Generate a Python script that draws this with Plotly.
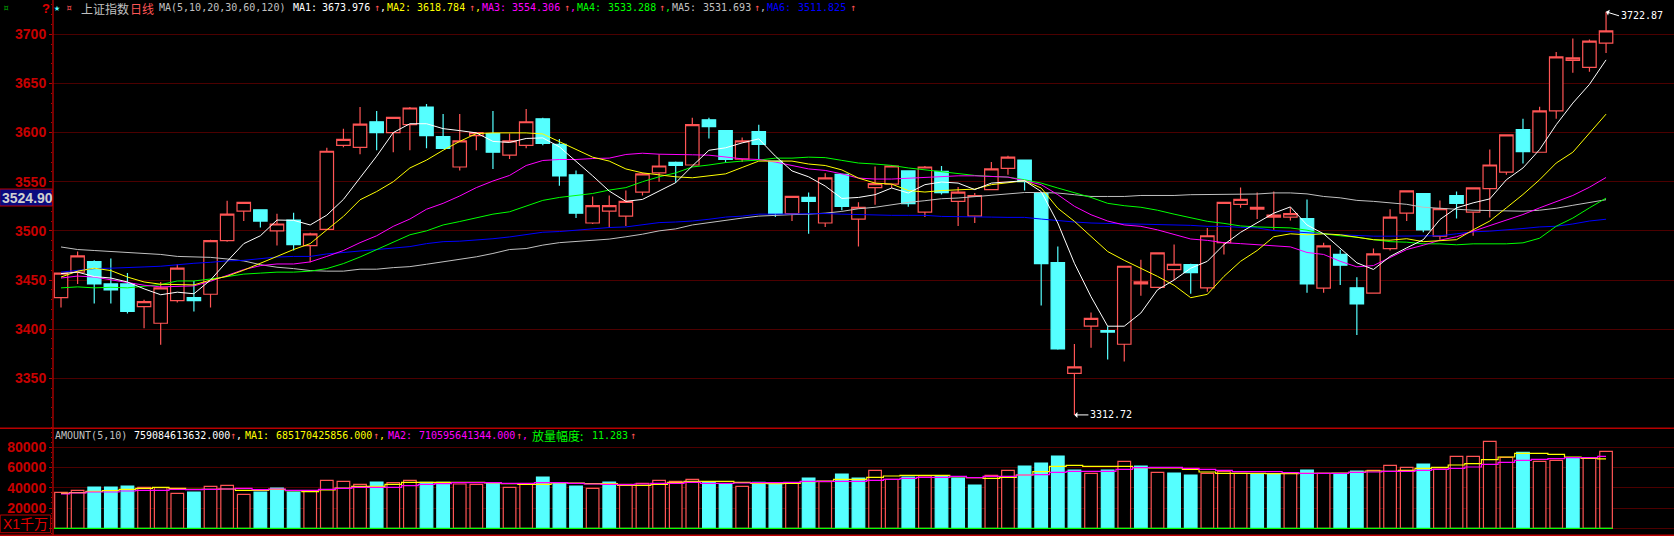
import plotly.graph_objects as go

# ---------- data ----------
opens = [3432,3458,3468.7,3446,3446,3423,3406,3429,3432,3435.5,
 3490,3520,3521.5,3500,3511,3485,3501.5,3587,3585,3611,
 3600,3608,3626,3596,3565,3597,3599,3577,3587,3614,
 3588,3557,3508,3520,3515,3539.5,3559,3569.6,3567,3613,
 3602,3573,3601,3571,3517.6,3534,3508,3557.5,3512,3544,
 3547.6,3561,3519,3560.5,3530,3515,3542,3563.6,3572,3538,
 3467.6,3355,3403,3398.5,3384.6,3446,3442.5,3460.5,3465.6,3442,
 3488,3527,3522,3514,3514,3512.5,3441.7,3476,3442,3436.6,
 3482,3518,3538,3494.6,3536,3519,3543,3559.7,3603,3580,
 3622,3673.5,3666.4,3691]
closes = [3457,3474.5,3446,3440,3418,3428,3442,3462,3429,3490,
 3517,3529,3510,3507,3486,3497,3581,3593,3608.5,3600,
 3615.5,3625,3597,3584,3591.5,3600,3580,3591.5,3611,3589,
 3556,3518,3525.7,3525.7,3530,3558,3566,3566.5,3608,3606,
 3572.6,3591.5,3588,3517.6,3535,3530,3554,3525,3524,3548,
 3566,3527.6,3565,3539,3539.5,3536,3563,3575,3550,3466.6,
 3380,3361.5,3411,3397,3464,3448,3477.5,3466,3457.5,3495,
 3529,3532,3524,3516,3517.6,3446,3484.7,3465,3425.6,3476.6,
 3514,3540.7,3501,3522.7,3528,3543.7,3567,3597.6,3580.7,3622,
 3677,3676,3693,3703.4]
highs = [3457,3479,3470,3472,3457,3430,3448,3466,3449,3491,
 3530.6,3529,3521.5,3517.5,3518.5,3498,3584.5,3604,3626,3622,
 3615.5,3626,3629,3619,3619,3600.7,3622,3599,3624,3615,
 3593.5,3561.5,3535,3536,3541,3559,3578,3570.6,3615,3615,
 3602,3595,3608,3571,3535,3539,3558.5,3558,3529,3565.6,
 3567,3561,3566,3566,3544.6,3538.5,3570,3576.4,3572,3538,
 3484,3385,3417,3403,3464,3470.7,3477.5,3486,3466.6,3503,
 3529,3544,3539,3540,3524,3532,3488,3480.7,3452.8,3482,
 3522,3540.7,3538,3531,3540,3543.7,3582.7,3597.6,3614,3626.4,
 3682,3695.6,3694.6,3722.87]
lows = [3422,3446,3426,3426,3416,3401,3384,3427,3418,3422,
 3489,3510,3503.5,3485,3480,3468,3501,3585,3578,3582,
 3580,3582,3584,3584,3561.5,3582,3563,3573,3584,3587,
 3546,3513,3507,3503,3505,3536,3550,3549,3567,3594,
 3569.6,3570,3572.6,3514,3510,3497,3504,3521,3484,3526.6,
 3543.6,3524.6,3514,3537,3505,3508,3542,3557,3541,3424,
 3379,3312.72,3381,3369,3367,3434,3442.5,3450,3436,3438,
 3476,3523.5,3512,3501,3510.5,3437,3437,3445,3394,3436,
 3480,3510,3498.6,3491,3512.5,3495,3513.6,3557,3568.5,3580,
 3614,3661,3662,3681]

ma5 = [3456.5,3458,3453.5,3452,3448,3441,3435,3437.6,3436,3450,3469,3487,3495,3511,3510.7,3506,3516,3532,3554,3576,3600,3609,
 3609,3604,3602,3599.7,3591,3590,3594,3594.6,3585.5,3571,3556,3540.5,3530,3532,3540.5,3549,3566,3582,3584.5,3589.5,3593.6,3576,3561,3555,3545.6,
 3533,3534,3536.8,3543.6,3538.5,3547,3549.7,3548.6,3542,3548.6,3550,3551,3540,3508,3467,3433,3403,3403,3416.4,3440,3450,3462,3469,3486,3498.5,3508.6,
 3518,3524.4,3506,3497,3482.7,3467.5,3460.7,3474,3482.7,3491,3511.5,3523.4,3528.5,3532.5,3552,3564,3582.7,3608,3630,3649,3673.98]
ma10 = [3453,3459,3462,3459.6,3453,3448,3445.7,3445,3445,3450,3453.8,3460,3466.7,3474,3481,3487,3501,3514.7,3531.6,3540,3550,3564,
 3572,3582,3591,3599,3599.7,3599.7,3599.7,3598.6,3591,3583.4,3575,3571,3563,3559,3557,3555,3554,3556,3558,3564.5,3571,3571,3571,3568,3566.5,
 3562,3553.7,3548.6,3547.6,3541,3539.5,3541,3541.9,3542.5,3547,3549,3551,3543.6,3523,3509.7,3494,3479,3470,3462,3453.7,3444.6,3432,3435.4,3453.7,3469,3480,
 3494,3497,3496,3497,3496,3493.6,3491,3490.5,3492,3489,3490,3491,3501,3510,3523.4,3537,3552,3569,3580,3599.7,3618.78]
ma20 = [3452,3454,3453,3450.4,3447.7,3444.7,3443,3443.7,3444,3448.7,3454.5,3460.6,3464.6,3466.3,3466.3,3468.4,3474,3480,3488,3495,3504.6,3512,
 3522,3528,3535.5,3544,3550.7,3556.4,3566.5,3571.6,3572.6,3572.6,3573.6,3574,3577.7,3579,3578,3577.4,3577.4,3577,3575,3573.3,3572.6,3570,3566.5,3563,3561.5,
 3558,3553.7,3552.7,3552.7,3553.7,3554.7,3555.4,3556,3556,3555.4,3554.7,3551,3547,3536.8,3525,3516.4,3510,3506,3504.6,3501,3496,3491.7,3490.3,3488,3487,3486,
 3485,3483.7,3478,3476,3469,3463.4,3464.7,3472.5,3481,3485.4,3490.5,3494,3499.7,3505.4,3511,3516.6,3523.4,3529.5,3536,3544.4,3554.31]
ma30 = [3442,3443,3442,3442.6,3442,3443.7,3445.3,3449,3449,3451,3453.8,3456,3457,3458,3458,3459,3461.6,3466.7,3473.4,3481,3489,3496,
 3500,3506,3509.5,3513.5,3517,3519.4,3525.5,3531,3534,3536,3538,3541.5,3544,3550,3555,3559,3565,3567,3569.5,3571,3572,3574,3574,3575,3574.5,
 3571.7,3569,3568,3566.6,3564,3562,3560,3558,3556.4,3555.4,3554.7,3552,3548.6,3543.6,3538.5,3534,3528,3525.6,3524,3521,3517,3513,3509.7,3507.6,3505,3504,
 3503.7,3503,3500.7,3497,3495,3493.6,3491,3489,3488.5,3486.8,3486.8,3485.8,3486.8,3486.8,3486.8,3487.8,3492.5,3504.7,3513,3523.4,3533.29]
ma60 = [3458,3460,3461.6,3462,3463,3463.3,3464,3465.6,3467,3468,3469.4,3470,3471.7,3473.4,3474,3474,3476.5,3478,3480,3481.6,3483,3484,
 3487,3489,3489.5,3490.4,3492,3493.8,3496,3498.6,3499.3,3500.7,3502.7,3503.4,3504,3506,3508.4,3509,3510,3511.8,3514,3515,3517,3517,3517.4,3517.6,3517.6,
 3517,3516.4,3516,3515.8,3515.8,3515.8,3514.7,3514.7,3514.7,3514,3513.7,3513.7,3512,3510.3,3509,3508,3507.6,3507,3507,3506,3506,3505.6,3504.6,3504.6,3503.6,3503,
 3500.3,3499,3498,3497,3496,3495,3494.6,3494.6,3494.6,3494.6,3495,3497,3499,3499.7,3501.4,3502.4,3504,3504.7,3507,3510,3511.83]
ma120 = [3483.6,3481,3480,3479,3478,3477,3476,3474,3473.4,3473,3471.4,3469.4,3465.6,3463,3461.6,3459.6,3459,3459,3461,3461,3462.6,3463.6,
 3466,3468.5,3471,3473.6,3477,3481,3482,3485.5,3488,3489,3490,3491.6,3494,3496.6,3500,3502,3506,3508.4,3511,3513,3515,3516,3516.5,3517,3518,
 3519.8,3522.5,3524,3526.6,3529,3530.7,3532.7,3533.4,3534.7,3535.8,3537.8,3539,3539,3538.5,3536.8,3535,3535,3535,3536,3536,3536,3536.8,3537,3537,3537.5,3537.5,
 3538.6,3538.6,3537.6,3535,3533.6,3531,3530,3528.5,3527,3524,3522.7,3522,3521,3520.7,3520.7,3520,3521,3523,3526,3528.5,3531.69]

amount = [35532,37506,40796,40796,41783,40467,40138,34545,35861,41454,42441,33558,35861,39809,35861,37177,47376,46389,43428,45731,45073,47376,45402,45402,43757,43428,44415,40467,43757,50666,45073,
 41783,39480,45731,43428,44415,47376,46389,48363,46060,44086,41454,45402,44415,45073,49679,46060,53627,49679,57246,48363,50666,51653,51653,49679,42770,52311,57246,61523,64484,71393,57575,54285,
 57575,66129,61523,55272,54614,52640,54285,56259,54285,53956,53956,54614,57575,54285,53956,56588,57246,62181,60207,63497,58562,71064,71064,85869,70077,75012,66129,67116,69090,69090,75908]
amount_down = [2,3,4,8,12,13,14,19,22,23,26,29,30,31,33,39,40,42,43,45,47,48,51,53,54,55,58,59,60,61,63,65,67,68,72,73,75,77,78,82,88,91]
amount_ma5 = [34545,35203,36519,37177,38493,39480,40467,39480,38493,38493,38822,37506,37506,38493,37177,36190,37835,39809,41454,41454,43428,45402,45402,45402,45402,45402,44744,44086,43428,43428,44744,
 44744,44086,44086,42441,42441,43428,45402,46389,46389,46389,45402,44415,44086,44415,46060,46718,48363,48363,50337,51653,52311,52311,52311,50995,50008,49350,50337,52640,55930,61194,62181,61194,
 61194,61194,59878,59549,59549,58233,55601,54285,54285,54285,53956,53956,54285,54285,54614,55272,56588,56259,57246,59220,60207,62510,63826,67774,70406,74025,74025,73038,70406,69090,68517]
amount_ma10 = [33887,34874,35861,35861,36848,37506,37506,38493,38164,38493,38822,39480,38164,38822,37506,37506,38493,39480,40467,40467,40467,42112,43428,44086,45073,45073,45073,44415,44415,45073,45073,
 44415,43757,43428,43099,43757,44415,44415,45402,44415,44415,44744,45073,45073,45402,46389,46389,46389,46389,47376,48363,49350,50337,50337,51324,50008,51324,51324,52640,52969,55272,56259,56259,
 56259,58233,59878,60207,60207,59220,58233,57246,55930,55930,55930,54943,54285,54285,54285,55272,55601,56259,56259,57246,58233,59220,60536,63168,65142,67116,68103,68761,69748,69748,71060]

price_ticks = [3350,3400,3450,3500,3550,3600,3650,3700]
amount_ticks = [0,20000,40000,60000,80000]
amount_tick_text = ["","20000","40000","60000","80000"]

for arr in (opens,closes,highs,lows,ma5,ma10,ma20,ma30,ma60,ma120,amount,amount_ma5,amount_ma10):
    assert len(arr)==94, len(arr)

# ---------- style ----------
W,H = 1674,536
L = 53.3
RED="#ff5555"; CYAN="#55ffff"; GRID="#4c0000"; AXIS="#b80000"; LABEL="#c80000"
MONO="DejaVu Sans Mono, Noto Sans CJK SC"
TICKF=dict(family="Liberation Sans",size=14,color=LABEL,weight=700)
idx=list(range(94))
def px(x): return (x-L)/(W-L)
def py(y): return (H-y)/H

fig=go.Figure()
fig.add_trace(go.Candlestick(x=idx,open=opens,high=highs,low=lows,close=closes,whiskerwidth=0,
    increasing=dict(line=dict(color=RED,width=1.2),fillcolor="#000000"),
    decreasing=dict(line=dict(color=CYAN,width=1.2),fillcolor=CYAN),hoverinfo="skip"))
for vals,c in ((ma120,"#c0c0c0"),(ma60,"#0000ff"),(ma30,"#00ff00"),(ma20,"#ff00ff"),(ma10,"#ffff00"),(ma5,"#ffffff")):
    fig.add_trace(go.Scatter(x=idx,y=vals,mode="lines",line=dict(color=c,width=1),hoverinfo="skip"))

down=set(amount_down)
fig.add_trace(go.Bar(x=idx,y=amount,yaxis="y2",width=0.76,
    marker=dict(color=[CYAN if i in down else "#000000" for i in idx],
                line=dict(color=[CYAN if i in down else RED for i in idx],width=1.2)),hoverinfo="skip"))
fig.add_trace(go.Scatter(x=idx,y=amount_ma5,yaxis="y2",mode="lines",line=dict(color="#ffff00",width=1.2,shape="hvh"),hoverinfo="skip"))
fig.add_trace(go.Scatter(x=idx,y=amount_ma10,yaxis="y2",mode="lines",line=dict(color="#ff00ff",width=1.2,shape="hvh"),hoverinfo="skip"))
fig.add_trace(go.Scatter(x=[-0.42,93.4],y=[0,0],yaxis="y2",mode="lines",line=dict(color="#00ff00",width=1.3),hoverinfo="skip"))

ann=[]
def text(x,y,s,c,fam=MONO,size=10,**kw):
    ann.append(dict(xref="paper",yref="paper",x=px(x),y=py(y),text=s,showarrow=False,xanchor="left",yanchor="middle",
                    font=dict(family=fam,size=size,color=c),borderpad=0,**kw))
Y0=7
text(2,Y0,"¤","#00a000",size=10)
text(41,Y0+1,"<b>?</b>","#e00000",fam="Liberation Sans",size=13)
text(53,Y0,"★",CYAN,size=10)
text(65,Y0,"¤",RED,size=10)
text(80,Y0+2,"上证指数","#c0c0c0",fam="Noto Sans CJK SC",size=12)
text(129,Y0+2,"日线",RED,fam="Noto Sans CJK SC",size=12)
text(158,Y0,"MA(5,10,20,30,60,120)","#c0c0c0")
hdr=[(292,"MA1:","3673.976",321,373,"#ffffff"),(386,"MA2:","3618.784",416,468,"#ffff00"),(481,"MA3:","3554.306",511,563,"#ff00ff"),
     (576,"MA4:","3533.288",607,658,"#00ff00"),(671,"MA5:","3531.693",702,753,"#c0c0c0"),(766,"MA6:","3511.825",797,849,"#0000ff")]
for x1,a,b,x2,x3,c in hdr:
    text(x1,Y0,a,c); text(x2,Y0,b,c); text(x3,Y0,"↑",RED)
    if a!="MA6:": text(x3+6,Y0,",",c)
Y1=435
text(54,Y1,"AMOUNT(5,10)","#c0c0c0")
text(133,Y1,"759084613632.000","#ffffff"); text(229,Y1,"↑",RED); text(235,Y1,",","#ffffff")
text(244,Y1,"MA1:","#ffff00"); text(275,Y1,"685170425856.000","#ffff00"); text(372,Y1,"↑",RED); text(378,Y1,",","#ffff00")
text(387,Y1,"MA2:","#ff00ff"); text(418,Y1,"710595641344.000","#ff00ff"); text(515,Y1,"↑",RED); text(521,Y1,",","#ff00ff")
text(531,Y1,"放量幅度:","#00ff00",fam="Noto Sans CJK SC",size=12)
text(591,Y1,"11.283","#00ff00"); text(629,Y1,"↑",RED)

# current-price box and unit box
ann.append(dict(xref="paper",yref="paper",x=px(1.5),y=py(197.5),text="<b>3524.90</b>",showarrow=False,xanchor="left",yanchor="middle",
    font=dict(family="Liberation Sans",size=14,color="#d0d0d0"),borderpad=0))
ann.append(dict(xref="paper",yref="paper",x=px(2),y=py(524),text="X1千万",showarrow=False,xanchor="left",yanchor="middle",
    font=dict(family="Liberation Sans, Noto Sans CJK SC",size=14,color="#e00000"),borderpad=0))
# extreme labels
ann.append(dict(x=93,y=3722.87,text="3722.87",xanchor="left",yanchor="middle",ax=13,ay=4,axref="pixel",ayref="pixel",showarrow=True,
    arrowhead=1,arrowsize=1,arrowwidth=1,arrowcolor="#ffffff",standoff=0,startstandoff=0,font=dict(family=MONO,size=10,color="#ffffff")))
ann.append(dict(x=61,y=3312.72,text="3312.72",xanchor="left",yanchor="middle",ax=14,ay=0,axref="pixel",ayref="pixel",showarrow=True,
    arrowhead=1,arrowsize=1,arrowwidth=1,arrowcolor="#ffffff",standoff=0,startstandoff=0,font=dict(family=MONO,size=10,color="#ffffff")))

def hl(y,c,w=1): return dict(type="line",xref="paper",yref="paper",x0=px(0),x1=1,y0=py(y),y1=py(y),line=dict(color=c,width=w),layer="above")
shapes=[hl(428.3,AXIS,1.5),hl(535.3,AXIS,1.5),
  dict(type="line",xref="paper",yref="paper",x0=0,x1=0,y0=0,y1=1,line=dict(color=AXIS,width=1.3)),
  dict(type="rect",xref="paper",yref="paper",x0=px(0),x1=px(52.7),y0=py(206),y1=py(189),line=dict(color=AXIS,width=1),fillcolor="#0a0a80",layer="below"),
  dict(type="rect",xref="paper",yref="paper",x0=px(0.5),x1=px(51),y0=py(532.7),y1=py(515),line=dict(color=AXIS,width=1),fillcolor="rgba(0,0,0,0)")]

fig.update_layout(width=W,height=H,margin=dict(l=L,r=0,t=0,b=0,autoexpand=False),paper_bgcolor="#000000",plot_bgcolor="#000000",
    showlegend=False,barmode="overlay",boxgap=0.1,boxgroupgap=0.1,annotations=ann,shapes=shapes,
    xaxis=dict(range=[-0.4816,97.09],visible=False,rangeslider=dict(visible=False),fixedrange=True),
    yaxis=dict(domain=[py(428.3),1],range=[3299.1,3734.9],tickmode="array",tickvals=price_ticks,showgrid=True,gridcolor=GRID,gridwidth=1,
        zeroline=False,showline=False,ticks="outside",ticklen=3,tickcolor=AXIS,tickwidth=1,tickfont=TICKF,
        minor=dict(ticks="outside",ticklen=1,tickcolor=AXIS,dtick=10,tick0=0,showgrid=False),fixedrange=True),
    yaxis2=dict(domain=[0,py(428.3)],range=[-7605,98765],tickmode="array",tickvals=amount_ticks,ticktext=amount_tick_text,showgrid=True,gridcolor=GRID,gridwidth=1,
        zeroline=False,showline=False,ticks="outside",ticklen=3,tickcolor=AXIS,tickwidth=1,tickfont=TICKF,
        minor=dict(ticks="outside",ticklen=1,tickcolor=AXIS,dtick=5000,tick0=0,showgrid=False),fixedrange=True))

fig.write_html("out.html",config=dict(displayModeBar=False),
    post_script="document.body.style.margin='0';document.body.style.background='#000';")
